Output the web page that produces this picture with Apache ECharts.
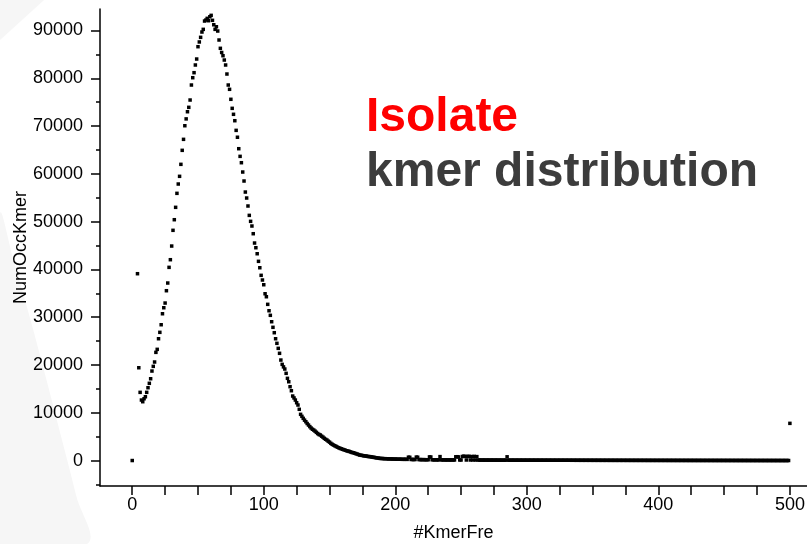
<!DOCTYPE html>
<html>
<head>
<meta charset="utf-8">
<script src="https://cdn.jsdelivr.net/npm/echarts@6/dist/echarts.min.js"></script>
<style>
  html, body { margin: 0; padding: 0; background: #ffffff; }
  #chart { width: 807px; height: 544px; }
</style>
</head>
<body>
<div id="chart"></div>
<script>
// k-mer frequency histogram: number of distinct k-mers (NumOccKmer) per occurrence count (#KmerFre)

const zeroBin = [0, 0];            // [#KmerFre, NumOccKmer]
const peakStartFreq = 4;           // first frequency of peakCounts
const peakCounts = [
  39100, 19420, 14270, 12660, 12310, 12930, 13350, 14270, 15240, 16160,   // 4-13
  17120, 18730, 19710, 20620, 22640, 23270, 25490, 26830, 28420, 30720,   // 14-23
  31980, 32960, 35540, 37150, 40430, 42030, 44890, 48180, 50400, 52990,   // 24-33
  55920, 57870, 59480, 61990, 64920, 67220, 70070, 71500, 73000, 73920,   // 34-43
  75450, 78590, 80120, 81170, 82780, 84030, 86610, 87600, 88570, 89680,   // 44-53
  90240, 91980, 92190, 92540, 92050, 92880, 93170, 92130, 91200, 90240,   // 54-63
  90790, 89890, 88010, 86270, 85400, 84720, 83820, 82780, 80890, 78590,   // 64-73
  77690, 75600, 73710, 72460, 71120, 69100, 67660, 65260, 63660, 62330,   // 74-83
  60380, 58500, 56190, 54940, 53270, 51310, 50060, 49080, 47470, 45520,   // 84-93
  44540, 43280, 41690, 40350, 38760, 37780, 36790, 34910, 34280, 32690,   // 94-103
  31350, 30390, 29050, 27880, 26750, 25490, 24530, 23480, 22440, 21030,   // 104-113
  20130, 19600, 19150, 18250, 17200, 16490, 15450, 14610, 13500, 13100,   // 114-123
  12660, 12100, 11620, 10720, 9670, 9250, 8830, 8450, 8120, 7750,        // 124-133
  7430, 7100, 6800, 6550, 6380, 6150, 5900, 5650, 5450, 5340,            // 134-143
  5100, 4900, 4650, 4450, 4290, 4050, 3850, 3600, 3400, 3240,            // 144-153
  3100, 2950, 2800, 2680, 2550, 2450, 2350, 2250, 2150, 2050,            // 154-163
  1980, 1900, 1800, 1700, 1630, 1550, 1450, 1350, 1250, 1150,            // 164-173
  1100, 1050, 1000, 960, 920, 870, 830, 800, 760, 700,                   // 174-183
  650, 600, 560, 510, 460, 440, 420, 400, 390, 380,                      // 184-193
  360, 350, 340, 330, 320, 310, 300                                      // 194-200
];
const tailStartFreq = 201;         // first frequency of tailCounts
const tailCounts = [
  290, 285, 270, 280, 260, 255, 250, 262, 240, 700,     // 201-210
  680, 230, 220, 215, 210, 720, 690, 200, 195, 190,     // 211-220
  185, 180, 175, 170, 165, 760, 740, 160, 155, 150,     // 221-230
  148, 145, 142, 820, 140, 138, 135, 132, 130, 128,     // 231-240
  126, 124, 122, 120, 118, 780, 800, 760, 116, 114,     // 241-250
  850, 900, 870, 112, 860, 880, 110, 840, 108, 870,     // 251-260
  106, 820, 104, 102, 100, 98, 96, 95, 94, 93,          // 261-270
  92, 91, 90, 89, 88, 87, 86, 85, 84, 83,               // 271-280
  82, 81, 80, 79, 780, 78, 77, 76, 75, 74,              // 281-290
  74, 73, 73, 72, 72, 71, 71, 70, 70, 69,               // 291-300
  68, 70, 67, 66, 68, 65, 66, 64, 65, 63,               // 301-310
  64, 62, 63, 61, 62, 60, 61, 60, 59, 60,               // 311-320
  58, 59, 57, 58, 56, 57, 55, 56, 55, 54,               // 321-330
  55, 53, 54, 52, 53, 52, 51, 52, 50, 51,               // 331-340
  50, 49, 50, 48, 49, 48, 47, 48, 46, 47,               // 341-350
  46, 45, 46, 44, 45, 44, 43, 44, 42, 43,               // 351-360
  42, 43, 41, 42, 40, 41, 40, 39, 40, 39,               // 361-370
  38, 39, 38, 37, 38, 37, 36, 37, 36, 35,               // 371-380
  36, 35, 34, 35, 34, 33, 34, 33, 32, 33,               // 381-390
  32, 31, 32, 31, 30, 31, 30, 29, 30, 29,               // 391-400
  29, 28, 29, 28, 27, 28, 27, 26, 27, 26,               // 401-410
  26, 25, 26, 25, 24, 25, 24, 24, 23, 24,               // 411-420
  23, 22, 23, 22, 22, 21, 22, 21, 21, 20,               // 421-430
  21, 20, 20, 19, 20, 19, 19, 18, 19, 18,               // 431-440
  18, 17, 18, 17, 17, 16, 17, 16, 16, 15,               // 441-450
  16, 15, 15, 14, 15, 14, 14, 13, 14, 13,               // 451-460
  13, 12, 13, 12, 12, 11, 12, 11, 11, 10,               // 461-470
  11, 10, 10, 9, 10, 9, 9, 8, 9, 8,                     // 471-480
  8, 7, 8, 7, 7, 6, 7, 6, 6, 5,                         // 481-490
  6, 5, 5, 4, 5, 4, 4, 3, 4                             // 491-499
];
const lastBin = [500, 7780];       // all k-mers seen 500 times or more

// axis ticks and labels
const xTickValues = [0, 25, 50, 75, 100, 125, 150, 175, 200, 225, 250, 275, 300,
                     325, 350, 375, 400, 425, 450, 475, 500];
const xLabelValues = [0, 100, 200, 300, 400, 500];
const yLabelValues = [0, 10000, 20000, 30000, 40000, 50000, 60000, 70000, 80000, 90000];
const yMinorValues = [-5000, 5000, 15000, 25000, 35000, 45000, 55000, 65000, 75000, 85000];

const points = [zeroBin];
peakCounts.forEach((v, i) => points.push([peakStartFreq + i, v]));
tailCounts.forEach((v, i) => points.push([tailStartFreq + i, v]));
points.push(lastBin);

const FONT = 'Liberation Sans, Arial, sans-serif';
const INK = '#000000';
const plainNumber = v => String(v);

const chart = echarts.init(document.getElementById('chart'), null, { renderer: 'canvas' });

chart.setOption({
  animation: false,
  backgroundColor: '#ffffff',
  grid: { left: 100, top: 9, width: 707, height: 477, containLabel: false, outerBoundsMode: 'none' },
  xAxis: {
    type: 'value',
    min: -24.5,
    max: 513,
    splitNumber: 5,
    name: '#KmerFre',
    nameLocation: 'middle',
    nameGap: 38,
    nameMoveOverlap: false,
    nameTextStyle: { fontFamily: FONT, fontSize: 18, color: INK },
    axisLine: { show: true, onZero: false, lineStyle: { color: INK, width: 1.5 } },
    axisTick: { show: true, customValues: xTickValues, length: 9, lineStyle: { color: INK, width: 1.5 } },
    axisLabel: { customValues: xLabelValues, formatter: plainNumber, fontFamily: FONT, fontSize: 18, color: INK, margin: 10 },
    splitLine: { show: false }
  },
  yAxis: [
    {
      type: 'value',
      position: 'left',
      min: -5330,
      max: 94500,
      splitNumber: 10,
      name: 'NumOccKmer',
      nameLocation: 'middle',
      nameGap: 70,
      nameMoveOverlap: false,
      nameTextStyle: { fontFamily: FONT, fontSize: 18, color: INK },
      axisLine: { show: true, onZero: false, lineStyle: { color: INK, width: 1.5 } },
      axisTick: { show: true, customValues: yLabelValues, length: 9, lineStyle: { color: INK, width: 1.5 } },
      axisLabel: { customValues: yLabelValues, formatter: plainNumber, fontFamily: FONT, fontSize: 18, color: INK, margin: 17 },
      splitLine: { show: false }
    },
    {
      type: 'value',
      position: 'left',
      offset: 0,
      min: -5330,
      max: 94500,
      splitNumber: 10,
      axisLine: { show: false, onZero: false },
      axisTick: { show: true, customValues: yMinorValues, length: 4, lineStyle: { color: INK, width: 1.5 } },
      axisLabel: { show: false },
      splitLine: { show: false }
    }
  ],
  series: [{
    type: 'scatter',
    xAxisIndex: 0,
    yAxisIndex: 0,
    data: points,
    symbol: 'rect',
    symbolSize: 3.5,
    itemStyle: { color: INK, opacity: 1 },
    clip: true,
    silent: true
  }],
  graphic: [
    // faint slide decoration at the left edge
    {
      type: 'polygon', z: -10, silent: true,
      shape: { points: [[0, 0], [44, 0], [0, 40]] },
      style: { fill: '#f6f6f6' }
    },
    {
      type: 'polygon', z: -10, silent: true,
      shape: { smooth: 0.4, points: [[0, 215], [14, 262], [30, 318], [46, 378], [62, 440], [76, 495], [87, 544], [0, 544]] },
      style: { fill: '#f6f6f6' }
    },
    {
      type: 'text', z: 20, silent: true,
      style: { text: 'Isolate', x: 366, y: 118, fill: '#ff0000',
               font: 'bold 48px "Liberation Sans", Arial, sans-serif',
               textAlign: 'left', textVerticalAlign: 'middle' }
    },
    {
      type: 'text', z: 20, silent: true,
      style: { text: 'kmer distribution', x: 366, y: 173, fill: '#3c3c3c',
               font: 'bold 48px "Liberation Sans", Arial, sans-serif',
               textAlign: 'left', textVerticalAlign: 'middle' }
    }
  ]
});
</script>
</body>
</html>
